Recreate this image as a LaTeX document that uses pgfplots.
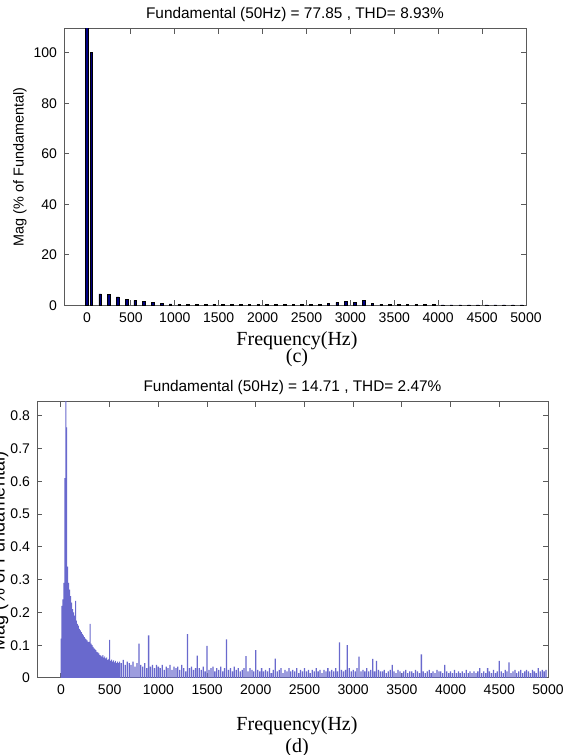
\documentclass[border=0pt]{standalone}
\usepackage{fontspec}
\setmainfont{Liberation Sans}
\newfontfamily\seriffont{Liberation Serif}
\usepackage{pgfplots}
\usepackage{pgfplotstable}
\pgfplotsset{compat=1.18}
\definecolor{navybar}{RGB}{0,0,128}
\definecolor{specblue}{RGB}{105,105,205}
\definecolor{axgray}{RGB}{90,90,90}

% (c) harmonic spectrum, % of fundamental
\pgfplotstableread{
f m
0 150
50 100
150 4.6
250 4.4
350 3.4
450 2.5
550 2.0
650 1.5
750 1.1
850 0.8
950 0.6
1050 0.45
1150 0.4
1250 0.45
1350 0.4
1450 0.5
1550 0.55
1650 0.5
1750 0.45
1850 0.4
1950 0.35
2050 0.3
2150 0.3
2250 0.3
2350 0.3
2450 0.35
2550 0.45
2650 0.55
2750 0.8
2850 1.2
2950 1.5
3050 1.3
3150 2.1
3250 0.8
3350 0.5
3450 0.4
3550 0.35
3650 0.3
3750 0.3
3850 0.3
3950 0.3
4050 0.25
4150 0.25
4250 0.25
4350 0.25
4450 0.25
4550 0.25
4650 0.25
4750 0.25
4850 0.25
4950 0.25
}\harmc

% (d) spectrum, % of fundamental
\pgfplotstableread{
f m
0 0.12
10 0.22
20 0.24
30 0.29
40 0.61
50 1.00
60 0.765
70 0.34
80 0.29
90 0.27
100 0.25
110 0.23
120 0.21
130 0.20
140 0.19
150 0.235
160 0.175
170 0.165
180 0.16
190 0.15
200 0.145
210 0.14
220 0.135
230 0.13
240 0.125
250 0.12
260 0.118
270 0.115
280 0.11
290 0.11
300 0.165
310 0.105
320 0.10
330 0.095
340 0.09
350 0.088
360 0.085
370 0.08
380 0.078
390 0.075
400 0.07
410 0.068
420 0.065
430 0.07
440 0.062
450 0.066
460 0.06
470 0.063
480 0.055
490 0.058
500 0.116
510 0.052
520 0.056
530 0.05
540 0.054
550 0.048
560 0.052
570 0.046
580 0.05
590 0.045
600 0.05
620 0.045
640 0.055
660 0.04
680 0.05
700 0.045
720 0.04
740 0.05
760 0.035
780 0.045
800 0.105
820 0.04
840 0.035
860 0.045
880 0.03
900 0.13
920 0.035
940 0.04
960 0.03
980 0.04
1000 0.035
1020 0.03
1040 0.04
1060 0.025
1080 0.035
1100 0.03
1120 0.04
1140 0.025
1160 0.035
1180 0.03
1200 0.035
1220 0.025
1240 0.04
1260 0.03
1280 0.02
1300 0.134
1320 0.03
1340 0.035
1360 0.025
1380 0.03
1400 0.068
1420 0.03
1440 0.025
1460 0.035
1480 0.02
1500 0.098
1520 0.025
1540 0.03
1560 0.035
1580 0.02
1600 0.03
1620 0.025
1640 0.035
1660 0.02
1680 0.03
1700 0.118
1720 0.025
1740 0.03
1760 0.02
1780 0.035
1800 0.025
1820 0.03
1840 0.02
1860 0.025
1880 0.03
1900 0.067
1920 0.02
1940 0.03
1960 0.025
1980 0.02
2000 0.085
2020 0.025
2040 0.02
2060 0.03
2080 0.02
2100 0.025
2120 0.02
2140 0.03
2160 0.015
2180 0.025
2200 0.059
2220 0.02
2240 0.025
2260 0.03
2280 0.015
2300 0.025
2320 0.02
2340 0.03
2360 0.02
2380 0.025
2400 0.02
2420 0.03
2440 0.015
2460 0.025
2480 0.02
2500 0.03
2520 0.02
2540 0.025
2560 0.015
2580 0.025
2600 0.02
2620 0.03
2640 0.02
2660 0.025
2680 0.015
2700 0.025
2720 0.02
2740 0.03
2760 0.02
2780 0.025
2800 0.02
2820 0.03
2840 0.02
2860 0.109
2880 0.025
2900 0.02
2920 0.025
2940 0.10
2960 0.03
2980 0.02
3000 0.025
3020 0.02
3040 0.03
3060 0.065
3080 0.02
3100 0.025
3120 0.02
3140 0.03
3160 0.02
3180 0.025
3200 0.058
3220 0.02
3240 0.052
3260 0.025
3280 0.02
3300 0.02
3320 0.025
3340 0.015
3360 0.02
3380 0.025
3400 0.04
3420 0.02
3440 0.015
3460 0.025
3480 0.02
3500 0.015
3520 0.02
3540 0.025
3560 0.015
3580 0.02
3600 0.02
3620 0.015
3640 0.025
3660 0.02
3680 0.015
3700 0.072
3720 0.02
3740 0.015
3760 0.02
3780 0.025
3800 0.015
3820 0.02
3840 0.015
3860 0.025
3880 0.02
3900 0.02
3920 0.015
3940 0.04
3960 0.02
3980 0.015
4000 0.02
4020 0.015
4040 0.025
4060 0.015
4080 0.02
4100 0.015
4120 0.02
4140 0.015
4160 0.025
4180 0.015
4200 0.02
4220 0.015
4240 0.02
4260 0.015
4280 0.02
4300 0.03
4320 0.015
4340 0.02
4360 0.015
4380 0.03
4400 0.02
4420 0.015
4440 0.025
4460 0.015
4480 0.02
4500 0.052
4520 0.02
4540 0.015
4560 0.025
4580 0.02
4600 0.048
4620 0.015
4640 0.02
4660 0.025
4680 0.015
4700 0.02
4720 0.025
4740 0.015
4760 0.02
4780 0.025
4800 0.02
4820 0.015
4840 0.025
4860 0.02
4880 0.015
4900 0.03
4920 0.02
4940 0.025
4960 0.02
4980 0.025
}\specd

\pgfplotsset{matstyle/.style={
  scale only axis,
  axis line style={axgray, line width=0.5pt},
  tick style={axgray, line width=0.5pt},
  tick align=inside,
  major tick length=2.5pt,
  xtick pos=both, ytick pos=both,
  ticklabel style={font=\fontsize{7}{8}\selectfont},
  /pgf/number format/assume math mode=true,
  /pgf/number format/1000 sep={},
  xmax=5000,
  xtick={0,500,...,5000},
  ymin=0,
  scaled ticks=false,
}}

\begin{document}
\begin{tikzpicture}
\useasboundingbox (0,0) rectangle (288pt,377.5pt);
\clip (0,0) rectangle (288pt,377.5pt);

\begin{axis}[matstyle,
  at={(32pt,224.75pt)}, anchor=south west,
  width=231pt, height=138.25pt,
  xmin=-262, ymax=109.4,
  ytick={0,20,...,100},
]
\addplot[ybar, bar shift=0pt, bar width=30, fill=navybar, draw=black, line width=0.3pt]
  table[x=f, y=m]{\harmc};
\end{axis}

\begin{axis}[matstyle,
  at={(18.5pt,38.5pt)}, anchor=south west,
  width=255.5pt, height=138.15pt,
  xmin=-246, ymax=0.843,
  ytick={0,0.1,...,0.8},
  yticklabel style={/pgf/number format/fixed, /pgf/number format/precision=1},
]
\addplot[ybar, bar shift=0pt, bar width=9, fill=specblue, draw=none,
  restrict x to domain=0:595]
  table[x=f, y=m]{\specd};
\addplot[ybar, bar shift=0pt, bar width=13, fill=specblue, draw=none,
  restrict x to domain=600:5000]
  table[x=f, y=m]{\specd};
\end{axis}

% titles and labels
\node[font=\fontsize{7.7}{9}\selectfont] at (147.5pt,370.25pt) {Fundamental (50Hz) = 77.85 , THD= 8.93\%};
\node[font=\fontsize{7.7}{9}\selectfont] at (146.25pt,183.5pt) {Fundamental (50Hz) = 14.71 , THD= 2.47\%};
\node[rotate=90, font=\fontsize{7.2}{9}\selectfont] at (10pt,294pt) {Mag (\% of Fundamental)};
\node[rotate=90, font=\fontsize{9}{11}\selectfont] at (0pt,102pt) {Mag (\% of Fundamental)};
\node[font=\seriffont\fontsize{10}{12}\selectfont] at (148.5pt,207pt) {Frequency(Hz)};
\node[font=\seriffont\fontsize{10}{12}\selectfont] at (148.5pt,198.5pt) {(c)};
\node[font=\seriffont\fontsize{10}{12}\selectfont] at (148.5pt,14.75pt) {Frequency(Hz)};
\node[font=\seriffont\fontsize{10}{12}\selectfont] at (148.5pt,3.75pt) {(d)};
\end{tikzpicture}
\end{document}
